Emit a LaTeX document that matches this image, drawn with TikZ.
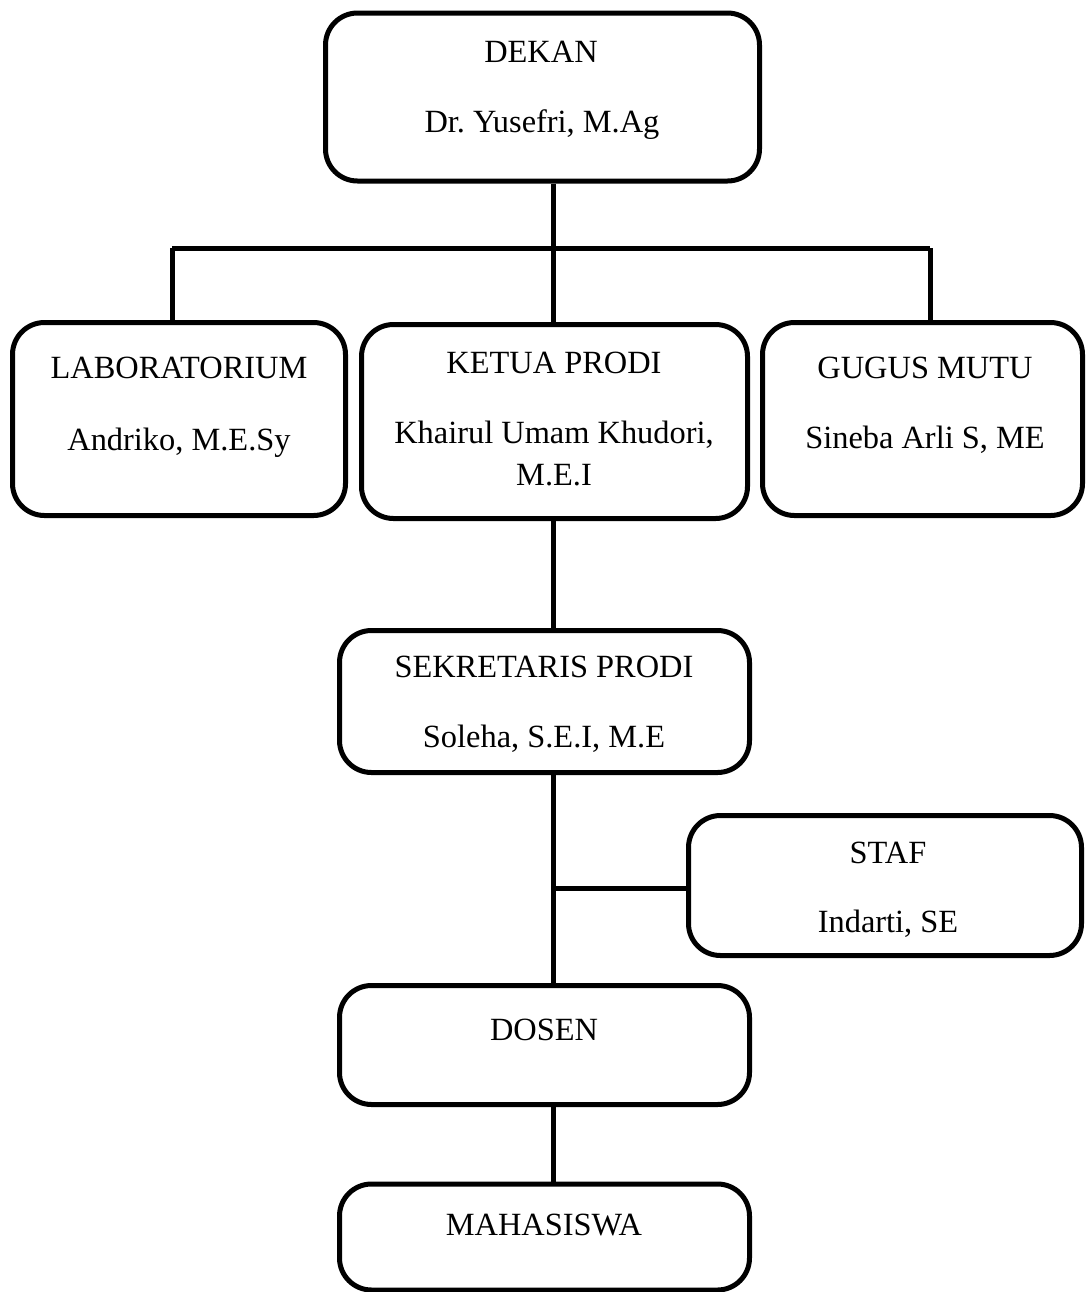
\documentclass[tikz,border=0pt]{standalone}
\usepackage{fontspec}
\setmainfont{Liberation Serif}
\frenchspacing
\begin{document}
\begin{tikzpicture}[x=0.5pt,y=-0.5pt,
  orgbox/.style={draw, line width=2.5pt, rounded corners=16pt, inner sep=0pt, fill=none},
  lbl/.style={anchor=base, inner sep=0pt, font=\fontsize{16.2}{19.5}\selectfont},
  conn/.style={line width=2.5pt}]
\useasboundingbox (0,0) rectangle (1086,1292);
% boxes
\node[orgbox, minimum width=217pt, minimum height=84pt] (dekan) at (542.5,97) {};
\node[orgbox, minimum width=166.5pt, minimum height=96.5pt] (lab) at (179,419) {};
\node[orgbox, minimum width=193pt, minimum height=97pt] (ketua) at (554.5,421.5) {};
\node[orgbox, minimum width=160pt, minimum height=96.5pt] (gugus) at (922.5,419) {};
\node[orgbox, minimum width=205pt, minimum height=71pt] (sek) at (544.5,701.5) {};
\node[orgbox, minimum width=196.5pt, minimum height=70pt] (staf) at (885,885.5) {};
\node[orgbox, minimum width=205pt, minimum height=59.5pt] (dosen) at (544.5,1045) {};
\node[orgbox, minimum width=205pt, minimum height=53pt] (maha) at (544.5,1237) {};
% texts
\node[lbl] (dekanA) at (541,62) {DEKAN};
\node[lbl] (dekanB) at (542,132) {Dr. Yusefri, M.Ag};
\node[lbl] (labA) at (179,378) {LABORATORIUM};
\node[lbl] (labB) at (179,450) {Andriko, M.E.Sy};
\node[lbl] (ketuaA) at (554,373) {KETUA PRODI};
\node[lbl] (ketuaB) at (554,443) {Khairul Umam Khudori,};
\node[lbl] (ketuaC) at (554,485) {M.E.I};
\node[lbl] (gugusA) at (925,378) {GUGUS MUTU};
\node[lbl] (gugusB) at (925,448) {Sineba Arli S, ME};
\node[lbl] (sekA) at (544,677) {SEKRETARIS PRODI};
\node[lbl] (sekB) at (544,747) {Soleha, S.E.I, M.E};
\node[lbl] (stafA) at (888,863) {STAF};
\node[lbl] (stafB) at (888,932) {Indarti, SE};
\node[lbl] (dosenA) at (544,1040) {DOSEN};
\node[lbl] (mahaA) at (544,1235) {MAHASISWA};
% connectors
\coordinate (bus) at (553,248);
\coordinate (busL) at (172,248);
\coordinate (busR) at (930,248);
\coordinate (stafJ) at (553,888);
\draw[conn] (dekan.south -| bus) -- (bus);
\draw[conn] (busL) -- (busR);
\draw[conn] (busL) -- (busL |- lab.north);
\draw[conn] (bus) -- (bus |- ketua.north);
\draw[conn] (busR) -- (busR |- gugus.north);
\draw[conn] (ketua.south -| bus) -- (sek.north -| bus);
\draw[conn] (sek.south -| bus) -- (dosen.north -| bus);
\draw[conn] (stafJ) -- (stafJ -| staf.west);
\draw[conn] (dosen.south -| bus) -- (maha.north -| bus);
\end{tikzpicture}
\end{document}
